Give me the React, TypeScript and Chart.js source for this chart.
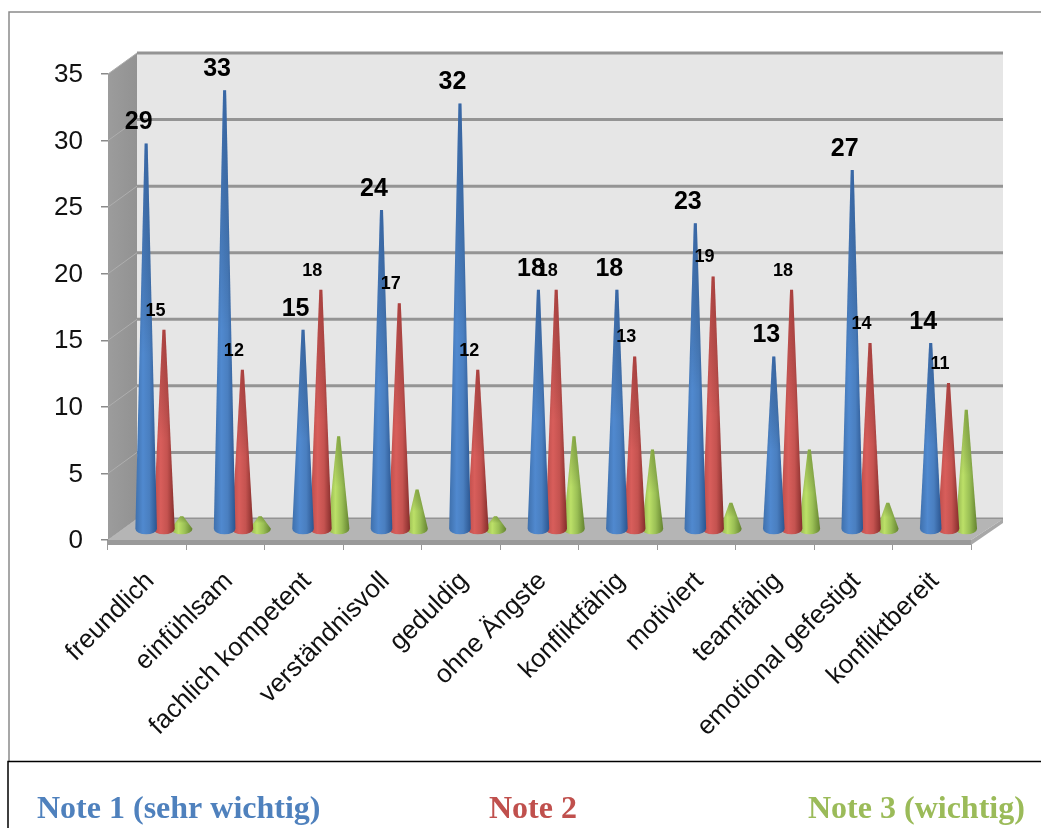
import React, { useEffect, useRef } from "react";
import { Chart, registerables } from "chart.js";

Chart.register(...registerables);

const categories = [
  "freundlich",
  "einfühlsam",
  "fachlich kompetent",
  "verständnisvoll",
  "geduldig",
  "ohne Ängste",
  "konfliktfähig",
  "motiviert",
  "teamfähig",
  "emotional gefestigt",
  "konfliktbereit",
];
const note1 = [29, 33, 15, 24, 32, 18, 18, 23, 13, 27, 14];
const note2 = [15, 12, 18, 17, 12, 18, 13, 19, 18, 14, 11];
const note3 = [1, 1, 7, 3, 1, 7, 6, 2, 6, 2, 9];
const seriesNames = ["Note 1 (sehr wichtig)", "Note 2", "Note 3 (wichtig)"];
const seriesColors = ["#4f81bd", "#c0504d", "#9bbb59"];
const legendX = [37, 489, 808];

// Shading across a cone: shadow, highlight, shadow.
const coneStops = [
  ["#3f70ac", "#5089cf", "#4a7fc0", "#2b558f"],
  ["#b84b48", "#d85e5b", "#c55350", "#842d2b"],
  ["#8aaa4a", "#bce068", "#9abf55", "#63822f"],
];
// Darker tint towards the narrow end of each cone.
const tipShade = ["rgba(20,50,100,0.35)", "rgba(90,15,15,0.3)", "rgba(50,80,10,0.3)"];

const SANS = '"Liberation Sans", Arial, sans-serif';
const SERIF = '"Liberation Serif", "Times New Roman", serif';

// Oblique offset of the back wall from the front plane of the axes.
const DEPTH_X = 30;
const DEPTH_Y = 21;
// Offset of the cone row inside the depth of the floor.
const ROW_X = 16.7;
const ROW_Y = 10.5;
const CONE_RX = 10.8;
const CONE_RY = 5.5;
const TIP_HALF = 1.5;

const frameAndLegend = {
  id: "frameAndLegend",
  beforeDraw(chart: any) {
    const { ctx, width, height } = chart;
    ctx.save();
    ctx.fillStyle = "#fff";
    ctx.fillRect(0, 0, width, height);
    ctx.strokeStyle = "#8a8a8a";
    ctx.lineWidth = 1.5;
    ctx.beginPath();
    ctx.moveTo(9, 761);
    ctx.lineTo(9, 12);
    ctx.lineTo(width, 12);
    ctx.stroke();
    ctx.strokeStyle = "#000";
    ctx.lineWidth = 1.5;
    ctx.beginPath();
    ctx.moveTo(width, 761.5);
    ctx.lineTo(8, 761.5);
    ctx.lineTo(8, height);
    ctx.stroke();
    ctx.font = `bold 32px ${SERIF}`;
    ctx.textAlign = "left";
    ctx.textBaseline = "alphabetic";
    seriesNames.forEach((name, i) => {
      ctx.fillStyle = seriesColors[i];
      ctx.fillText(name, legendX[i], 818);
    });
    ctx.restore();
  },
};

const walls = {
  id: "walls",
  beforeDatasetsDraw(chart: any) {
    const { ctx, chartArea, scales } = chart;
    const { left, right, top, bottom } = chartArea;
    const y = scales.y;
    const backL = left + DEPTH_X - 1;
    const backR = right + DEPTH_X + 2;
    ctx.save();

    // back wall
    ctx.fillStyle = "#e6e6e6";
    ctx.fillRect(backL, top - DEPTH_Y, backR - backL, bottom - top);

    // side wall
    const side = ctx.createLinearGradient(left, 0, backL, 0);
    side.addColorStop(0, "#9c9c9c");
    side.addColorStop(1, "#929292");
    ctx.fillStyle = side;
    ctx.beginPath();
    ctx.moveTo(left, top);
    ctx.lineTo(backL, top - DEPTH_Y);
    ctx.lineTo(backL, bottom - DEPTH_Y);
    ctx.lineTo(left, bottom);
    ctx.closePath();
    ctx.fill();

    // gridlines follow the value scale along the side wall and the back wall
    (y.ticks as { value: number }[]).forEach((t) => {
      const py = y.getPixelForValue(t.value);
      ctx.strokeStyle = "#aeaeae";
      ctx.lineWidth = 1;
      ctx.beginPath();
      ctx.moveTo(left, py);
      ctx.lineTo(backL, py - DEPTH_Y);
      ctx.stroke();
      ctx.strokeStyle = "#949494";
      ctx.lineWidth = 3;
      ctx.beginPath();
      ctx.moveTo(backL, py - DEPTH_Y);
      ctx.lineTo(backR, py - DEPTH_Y);
      ctx.stroke();
    });

    // floor: top face, front strip, right strip
    ctx.fillStyle = "#b5b5b5";
    ctx.beginPath();
    ctx.moveTo(left, bottom);
    ctx.lineTo(backL, bottom - DEPTH_Y);
    ctx.lineTo(backR, bottom - DEPTH_Y);
    ctx.lineTo(right, bottom);
    ctx.closePath();
    ctx.fill();
    ctx.fillStyle = "#9a9a9a";
    ctx.fillRect(left, bottom, right - left, 5);
    ctx.fillStyle = "#a8a8a8";
    ctx.beginPath();
    ctx.moveTo(right, bottom);
    ctx.lineTo(backR, bottom - DEPTH_Y);
    ctx.lineTo(backR, bottom - DEPTH_Y + 4);
    ctx.lineTo(right, bottom + 5);
    ctx.closePath();
    ctx.fill();
    ctx.restore();
  },
};

function conePath(ctx: CanvasRenderingContext2D, x: number, tip: number, base: number) {
  ctx.beginPath();
  ctx.moveTo(x - CONE_RX, base);
  ctx.lineTo(x - TIP_HALF, tip);
  ctx.lineTo(x + TIP_HALF, tip);
  ctx.lineTo(x + CONE_RX, base);
  ctx.ellipse(x, base, CONE_RX, CONE_RY, 0, 0, Math.PI);
  ctx.closePath();
}

function drawCone(ctx: CanvasRenderingContext2D, x: number, tip: number, base: number, series: number) {
  const stops = coneStops[series];
  const g = ctx.createLinearGradient(x - CONE_RX, 0, x + CONE_RX, 0);
  g.addColorStop(0, stops[0]);
  g.addColorStop(0.35, stops[1]);
  g.addColorStop(0.65, stops[2]);
  g.addColorStop(1, stops[3]);
  ctx.fillStyle = g;
  conePath(ctx, x, tip, base);
  ctx.fill();

  const shade = ctx.createLinearGradient(0, tip, 0, tip + (base - tip) * 0.55);
  shade.addColorStop(0, tipShade[series]);
  shade.addColorStop(1, "rgba(0,0,0,0)");
  ctx.fillStyle = shade;
  conePath(ctx, x, tip, base);
  ctx.fill();
}

// Replaces the flat bars with cones standing on the floor.
const cones = {
  id: "cones",
  beforeDatasetDraw(chart: any, args: any) {
    const { ctx } = chart;
    args.meta.data.forEach((bar: any) => {
      drawCone(ctx, bar.x + ROW_X, bar.y - ROW_Y, bar.base - ROW_Y, args.index);
    });
    return false;
  },
  afterDatasetsDraw(chart: any) {
    const { ctx } = chart;
    ctx.save();
    ctx.fillStyle = "#000";
    ctx.textAlign = "center";
    ctx.textBaseline = "middle";
    chart.getDatasetMeta(0).data.forEach((bar: any, i: number) => {
      ctx.font = `bold 25px ${SANS}`;
      ctx.fillText(String(note1[i]), bar.x + ROW_X - 7.5, bar.y - ROW_Y - 21);
    });
    chart.getDatasetMeta(1).data.forEach((bar: any, i: number) => {
      ctx.font = `bold 18px ${SANS}`;
      ctx.fillText(String(note2[i]), bar.x + ROW_X - 8.5, bar.y - ROW_Y - 19);
    });
    ctx.restore();
  },
};

export default function App() {
  const ref = useRef<HTMLCanvasElement>(null);
  useEffect(() => {
    const chart = new Chart(ref.current!, {
      type: "bar",
      data: {
        labels: categories,
        datasets: [note1, note2, note3].map((data, i) => ({
          label: seriesNames[i],
          data,
          backgroundColor: seriesColors[i],
          barPercentage: 1,
          categoryPercentage: 0.68,
        })),
      },
      options: {
        animation: false,
        responsive: false,
        layout: { padding: { top: 74, right: 70, left: 0, bottom: 0 } },
        plugins: { legend: { display: false }, tooltip: { enabled: false } },
        scales: {
          x: {
            afterFit(scale: any) {
              scale.height = 288;
            },
            border: { display: false },
            grid: { drawOnChartArea: false, tickLength: 10, color: "#9a9a9a", lineWidth: 1 },
            ticks: {
              autoSkip: false,
              minRotation: 45,
              maxRotation: 45,
              padding: 16,
              labelOffset: 3,
              color: "#111",
              font: { family: SANS, size: 26 },
            },
          },
          y: {
            min: 0,
            max: 35,
            afterFit(scale: any) {
              scale.width = 108;
            },
            border: { display: false },
            grid: { drawOnChartArea: false, tickLength: 7, color: "#8a8a8a", lineWidth: 1.5 },
            ticks: {
              stepSize: 5,
              padding: 18,
              labelOffset: 1,
              color: "#111",
              font: { family: SANS, size: 26 },
            },
          },
        },
      },
      plugins: [frameAndLegend, walls, cones],
    } as any);
    return () => chart.destroy();
  }, []);
  return (
    <div style={{ position: "fixed", left: 0, top: 0, width: 1041, height: 828 }}>
      <canvas ref={ref} width={1041} height={828} style={{ display: "block" }} />
    </div>
  );
}
